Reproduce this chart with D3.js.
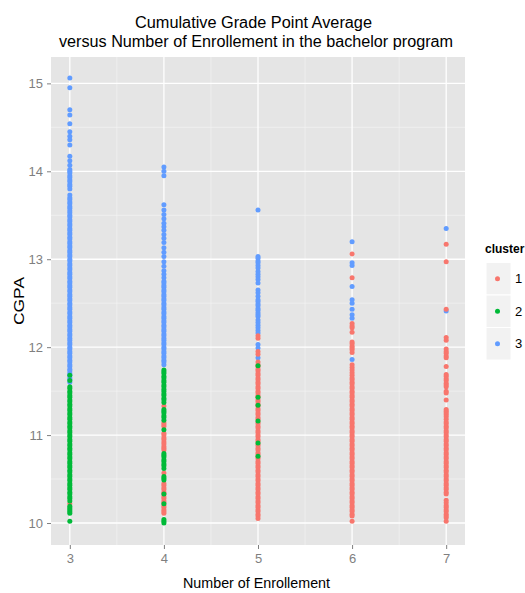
<!DOCTYPE html>
<html>
<head>
<meta charset="utf-8">
<script src="https://cdn.jsdelivr.net/npm/d3@7"></script>
<style>
  html, body { margin: 0; padding: 0; background: #fff; }
  svg { display: block; font-family: "Liberation Sans", Arial, sans-serif; }
</style>
</head>
<body>
<svg id="chart" width="525" height="593"></svg>
<script>
// CGPA values by number of enrollments (3..7) and cluster (1..3)
const enrolments = [3, 4, 5, 6, 7];
const clusters = ["1", "2", "3"];
const clusterColors = ["#F8766D", "#00BA38", "#619CFF"];
const xTicks = [3, 4, 5, 6, 7];
const yTicks = [10, 11, 12, 13, 14, 15];

// enrollment 3
const e3c1 = [10.22];
const e3c2 = [11.68, 11.62, 11.55, 11.53, 11.50, 11.48, 11.45, 11.43, 11.40, 11.38, 11.35, 11.33, 11.30,
  11.28, 11.25, 11.23, 11.20, 11.18, 11.15, 11.13, 11.10, 11.08, 11.05, 11.03, 11.00,
  10.98, 10.95, 10.93, 10.90, 10.88, 10.85, 10.83, 10.80, 10.78, 10.75, 10.73, 10.70, 10.68, 10.65,
  10.63, 10.60, 10.58, 10.55, 10.53, 10.50, 10.48, 10.45, 10.43, 10.40, 10.38, 10.35, 10.33, 10.30,
  10.28, 10.25, 10.19, 10.17, 10.15, 10.13, 10.11, 10.02];
const e3c3 = [15.06, 14.95, 14.70, 14.64, 14.54, 14.45, 14.40, 14.36, 14.30, 14.17, 14.12, 14.07, 14.02,
  14.00, 13.98, 13.95, 13.93, 13.90, 13.88, 13.85, 13.83, 13.80, 13.73, 13.70, 13.68, 13.65, 13.63, 13.60,
  13.58, 13.55, 13.53, 13.50, 13.48, 13.45, 13.43, 13.40, 13.38, 13.35, 13.33, 13.30, 13.28, 13.25,
  13.23, 13.20, 13.18, 13.15, 13.13, 13.10, 13.08, 13.05, 13.03, 13.00,
  12.98, 12.95, 12.93, 12.90, 12.88, 12.85, 12.83, 12.80, 12.78, 12.75, 12.73, 12.70, 12.68, 12.65,
  12.63, 12.60, 12.58, 12.55, 12.53, 12.50, 12.48, 12.45, 12.43, 12.40, 12.38, 12.35, 12.33, 12.30,
  12.28, 12.25, 12.23, 12.20, 12.18, 12.15, 12.13, 12.10, 12.08, 12.05, 12.03, 12.00,
  11.98, 11.95, 11.93, 11.90, 11.88, 11.85, 11.83, 11.80, 11.78, 11.75, 11.73, 11.70, 11.68, 11.65,
  11.63, 11.60];

// enrollment 4
const e4c1 = [11.33, 11.14, 11.12, 11.10, 11.02, 11.00, 10.97, 10.95, 10.92, 10.90, 10.87, 10.85, 10.83,
  10.57, 10.45, 10.43, 10.40, 10.38, 10.35, 10.33, 10.30, 10.28, 10.25, 10.23, 10.20, 10.18, 10.15,
  10.13, 10.11];
const e4c2 = [11.74, 11.72, 11.70, 11.67, 11.65, 11.62, 11.60, 11.57, 11.55, 11.52, 11.50, 11.47, 11.45,
  11.42, 11.40, 11.37, 11.29, 11.27, 11.25, 11.22, 11.20, 11.17, 11.06, 10.79, 10.77, 10.75, 10.72,
  10.70, 10.67, 10.65, 10.62, 10.53, 10.51, 10.49, 10.33, 10.22, 10.04, 10.02, 10.00];
const e4c3 = [14.05, 14.00, 13.95, 13.62, 13.56, 13.51, 13.46, 13.41, 13.37, 13.33, 13.28, 13.24, 13.19,
  13.13, 13.08, 13.03, 12.97, 12.92, 12.87, 12.83, 12.79,
  12.75, 12.73, 12.70, 12.68, 12.65, 12.63, 12.60, 12.58, 12.55, 12.53, 12.50, 12.48, 12.45, 12.43,
  12.40, 12.38, 12.35, 12.33, 12.30, 12.28, 12.25, 12.23, 12.20, 12.18, 12.15, 12.13, 12.10, 12.08,
  12.05, 12.03, 12.00, 11.98, 11.95, 11.93, 11.90, 11.88, 11.85, 11.83, 11.80];

// enrollment 5
const e5c1 = [12.13, 12.10, 11.95, 11.92, 11.83, 11.80, 11.78, 11.75, 11.73, 11.70, 11.68, 11.65, 11.63,
  11.60, 11.58, 11.55, 11.53, 11.50, 11.48, 11.45, 11.43, 11.40, 11.38, 11.35, 11.33, 11.30, 11.28,
  11.25, 11.23, 11.20, 11.18, 11.15, 11.13, 11.10, 11.08, 11.05, 11.03, 11.00,
  10.98, 10.95, 10.93, 10.90, 10.88, 10.85, 10.83, 10.80, 10.78, 10.75, 10.73, 10.70, 10.68, 10.65,
  10.63, 10.60, 10.58, 10.55, 10.53, 10.50, 10.48, 10.45, 10.43, 10.40, 10.38, 10.35, 10.33, 10.30,
  10.28, 10.25, 10.23, 10.20, 10.18, 10.15, 10.13, 10.10, 10.08, 10.05];
const e5c2 = [11.79, 11.43, 11.34, 11.16, 10.91, 10.76];
const e5c3 = [13.56, 13.03, 13.01, 12.98, 12.96, 12.93, 12.90, 12.86, 12.83, 12.80, 12.77, 12.73, 12.65,
  12.62, 12.58, 12.54, 12.52, 12.49, 12.47, 12.44, 12.42, 12.39, 12.37, 12.35, 12.31, 12.28, 12.25,
  12.22, 12.19, 12.16, 12.03, 11.99, 11.88];

// enrollment 6
const e6c1 = [13.06, 12.79, 12.27, 12.24, 12.22, 12.17, 12.06, 12.04, 12.01, 11.99, 11.97, 11.94, 11.80,
  11.77, 11.74, 11.71, 11.68, 11.65, 11.63, 11.60, 11.58, 11.55, 11.53, 11.50, 11.48, 11.45, 11.43,
  11.40, 11.38, 11.35, 11.33, 11.30, 11.28, 11.25, 11.23, 11.20, 11.18, 11.15, 11.13, 11.10, 11.08,
  11.05, 11.03, 11.00, 10.98, 10.95, 10.93, 10.90, 10.88, 10.85, 10.83, 10.80, 10.78, 10.75, 10.73,
  10.70, 10.68, 10.65, 10.63, 10.60, 10.58, 10.55, 10.53, 10.50, 10.48, 10.45, 10.43, 10.40, 10.38,
  10.35, 10.33, 10.30, 10.28, 10.25, 10.23, 10.20, 10.18, 10.15, 10.13, 10.10, 10.08, 10.02];
const e6c2 = [];
const e6c3 = [13.20, 12.96, 12.93, 12.69, 12.54, 12.50, 12.43, 12.37, 12.33, 11.86];

// enrollment 7
const e7c1 = [13.17, 12.97, 12.43, 12.11, 12.08, 11.98, 11.95, 11.93, 11.90, 11.88, 11.78, 11.69, 11.67,
  11.64, 11.62, 11.59, 11.57, 11.55, 11.50, 11.48, 11.40, 11.29, 11.27, 11.25, 11.23, 11.21, 11.18,
  11.15, 11.13, 11.10, 11.08, 11.05, 11.03, 11.00, 10.98, 10.95, 10.93, 10.90, 10.88, 10.85, 10.83,
  10.80, 10.78, 10.75, 10.73, 10.70, 10.68, 10.65, 10.63, 10.60, 10.58, 10.55, 10.53, 10.50, 10.48,
  10.45, 10.43, 10.40, 10.38, 10.35, 10.33, 10.26, 10.23, 10.20, 10.18, 10.15, 10.13, 10.10, 10.08,
  10.06, 10.02];
const e7c2 = [];
const e7c3 = [13.35, 12.41];

const byEnrolment = [
  [e3c1, e3c2, e3c3],
  [e4c1, e4c2, e4c3],
  [e5c1, e5c2, e5c3],
  [e6c1, e6c2, e6c3],
  [e7c1, e7c2, e7c3]
];

// long table of points; cluster 3 drawn first, then 1, then 2
const drawOrder = [2, 0, 1];
const points = [];
drawOrder.forEach(ci => {
  enrolments.forEach((n, ei) => {
    byEnrolment[ei][ci].forEach(v => points.push({ n, cgpa: v, cluster: clusters[ci] }));
  });
});

const svg = d3.select("#chart");
const panel = { left: 51, right: 465, top: 57, bottom: 545 };

const x = d3.scaleLinear().domain([2.8, 7.2]).range([panel.left, panel.right]);
const y = d3.scaleLinear().domain([9.75, 15.3]).range([panel.bottom, panel.top]);
const color = d3.scaleOrdinal().domain(clusters).range(clusterColors);

// panel background
svg.append("rect")
  .attr("x", panel.left).attr("y", panel.top)
  .attr("width", panel.right - panel.left).attr("height", panel.bottom - panel.top)
  .attr("fill", "#E5E5E5");

// minor grid
const g = svg.append("g");
const xMinor = [3.5, 4.5, 5.5, 6.5];
const yMinor = [10.5, 11.5, 12.5, 13.5, 14.5];
g.selectAll(".xminor").data(xMinor).join("line")
  .attr("x1", d => x(d)).attr("x2", d => x(d))
  .attr("y1", panel.top).attr("y2", panel.bottom)
  .attr("stroke", "#F4F4F4").attr("stroke-width", 0.7);
g.selectAll(".yminor").data(yMinor).join("line")
  .attr("y1", d => y(d)).attr("y2", d => y(d))
  .attr("x1", panel.left).attr("x2", panel.right)
  .attr("stroke", "#F4F4F4").attr("stroke-width", 0.7);
// major grid
g.selectAll(".xmajor").data(xTicks).join("line")
  .attr("x1", d => x(d)).attr("x2", d => x(d))
  .attr("y1", panel.top).attr("y2", panel.bottom)
  .attr("stroke", "#FFFFFF").attr("stroke-width", 1.3);
g.selectAll(".ymajor").data(yTicks).join("line")
  .attr("y1", d => y(d)).attr("y2", d => y(d))
  .attr("x1", panel.left).attr("x2", panel.right)
  .attr("stroke", "#FFFFFF").attr("stroke-width", 1.3);

// points
svg.append("g").selectAll("circle").data(points).join("circle")
  .attr("cx", d => x(d.n))
  .attr("cy", d => y(d.cgpa))
  .attr("r", 2.5)
  .attr("fill", d => color(d.cluster));

// axes
const yAxis = svg.append("g")
  .attr("transform", `translate(${panel.left},0)`)
  .call(d3.axisLeft(y).tickValues(yTicks).tickSize(4).tickPadding(4).tickFormat(d3.format("d")));
const xAxis = svg.append("g")
  .attr("transform", `translate(0,${panel.bottom})`)
  .call(d3.axisBottom(x).tickValues(xTicks).tickSize(4).tickPadding(5).tickFormat(d3.format("d")));
[xAxis, yAxis].forEach(a => {
  a.select(".domain").remove();
  a.selectAll(".tick line").attr("stroke", "#7F7F7F");
  a.selectAll(".tick text").attr("fill", "#7F7F7F")
    .style("font-size", "13px").style("font-family", "'Liberation Sans', Arial, sans-serif");
});

// titles
svg.append("text").attr("x", 253.5).attr("y", 28).attr("text-anchor", "middle")
  .attr("font-size", 16).attr("textLength", 237).attr("lengthAdjust", "spacingAndGlyphs")
  .attr("fill", "#000").text("Cumulative Grade Point Average");
svg.append("text").attr("x", 256).attr("y", 47).attr("text-anchor", "middle")
  .attr("font-size", 16).attr("textLength", 394).attr("lengthAdjust", "spacingAndGlyphs")
  .attr("fill", "#000").text("versus Number of Enrollement in the bachelor program");

svg.append("text").attr("x", 256.5).attr("y", 588).attr("text-anchor", "middle")
  .attr("font-size", 15).attr("textLength", 147).attr("lengthAdjust", "spacingAndGlyphs")
  .attr("fill", "#000").text("Number of Enrollement");

svg.append("text").attr("transform", "translate(23.5,301) rotate(-90)")
  .attr("text-anchor", "middle")
  .attr("font-size", 14.5).attr("textLength", 48).attr("lengthAdjust", "spacingAndGlyphs")
  .attr("fill", "#000").text("CGPA");

// legend
const legend = svg.append("g");
legend.append("text").attr("x", 485).attr("y", 253)
  .attr("font-size", 12).attr("font-weight", "bold").attr("fill", "#000").text("cluster");
const keyH = 32.5, keyW = 25, keyTop = 262.5, keyLeft = 486;
const keys = legend.selectAll(".key").data(clusters).join("g")
  .attr("transform", (d, i) => `translate(${keyLeft},${keyTop + i * keyH})`);
keys.append("rect").attr("width", keyW).attr("height", keyH)
  .attr("fill", "#F2F2F2").attr("stroke", "#FFFFFF").attr("stroke-width", 1);
keys.append("circle").attr("cx", 11.5).attr("cy", keyH / 2).attr("r", 2.5)
  .attr("fill", d => color(d));
keys.append("text").attr("x", 29).attr("y", keyH / 2).attr("dy", "0.36em")
  .attr("font-size", 13).attr("fill", "#000").text(d => d);
</script>
</body>
</html>
